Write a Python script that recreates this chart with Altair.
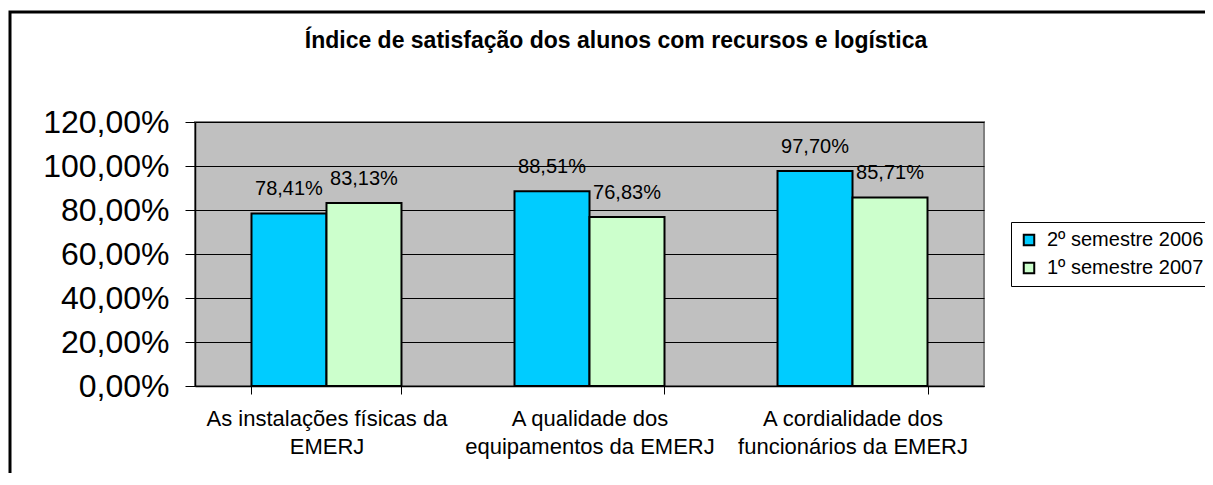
import altair as alt
import pandas as pd

title_text = "Índice de satisfação dos alunos com recursos e logística"
categories = [
    "As instalações físicas da EMERJ",
    "A qualidade dos equipamentos da EMERJ",
    "A cordialidade dos funcionários da EMERJ",
]
category_lines = [
    ["As instalações físicas da", "EMERJ"],
    ["A qualidade dos", "equipamentos da EMERJ"],
    ["A cordialidade dos", "funcionários da EMERJ"],
]
series = ["2º semestre 2006", "1º semestre 2007"]
values_2006 = [0.7841, 0.8851, 0.9770]
values_2007 = [0.8313, 0.7683, 0.8571]
colors = ["#00CCFF", "#CCFFCC"]
y_ticks = [0, 0.2, 0.4, 0.6, 0.8, 1.0, 1.2]

rows = []
for c, v in zip(categories, values_2006):
    rows.append({"cat": c, "series": series[0], "value": v})
for c, v in zip(categories, values_2007):
    rows.append({"cat": c, "series": series[1], "value": v})
df = pd.DataFrame(rows)

# multi-line x labels
expr = "datum.value"
for c, lines in zip(reversed(categories), reversed(category_lines)):
    arr = "[" + ",".join("'" + s + "'" for s in lines) + "]"
    expr = f"datum.value == '{c}' ? {arr} : ({expr})"

FONT = "Liberation Sans"
W, H = 789, 264

x_enc = alt.X(
    "cat:N", sort=categories, title=None,
    scale=alt.Scale(paddingInner=0.4297, paddingOuter=0.2148),
    axis=alt.Axis(
        labelExpr=expr, labelAngle=0, labelFont=FONT, labelFontSize=22,
        labelColor="black", labelLineHeight=28, labelPadding=14, labelLimit=0,
        tickBand="extent", tickSize=8, tickColor="black", tickWidth=1,
        domainColor="black", domainWidth=1.5, grid=False, labelBaseline="top",
    ),
)
xo_enc = alt.XOffset("series:N", sort=series, scale=alt.Scale(paddingInner=0, paddingOuter=0))
y_enc = alt.Y(
    "value:Q", title=None, scale=alt.Scale(domain=[0, 1.2]),
    axis=alt.Axis(
        values=y_ticks, labelExpr="replace(format(datum.value, '.2%'), '.', ',')",
        labelFont=FONT, labelFontSize=32, labelColor="black", labelPadding=16,
        tickSize=10, tickColor="black", domainColor="black", domainWidth=1.5,
        grid=True, gridColor="black", gridWidth=1, gridOpacity=1,
    ),
)

base = alt.Chart(df)
bars = base.mark_bar(stroke="black", strokeWidth=2).encode(
    x=x_enc, xOffset=xo_enc, y=y_enc,
    color=alt.Color(
        "series:N", sort=series, scale=alt.Scale(domain=series, range=colors),
        legend=alt.Legend(
            title=None, orient="none", legendX=816, legendY=100,
            labelFont=FONT, labelFontSize=20, labelColor="black",
            symbolType="square", symbolSize=110, symbolStrokeColor="black",
            symbolStrokeWidth=2, symbolOpacity=1, rowPadding=8,
            strokeColor="black", fillColor="white", padding=8, labelOffset=8,
        ),
    ),
)
labels = base.transform_calculate(
    lbl="replace(format(datum.value, '.2%'), '.', ',')"
).mark_text(font=FONT, fontSize=20, color="black", dy=-18, baseline="alphabetic").encode(
    x=alt.X("cat:N", sort=categories), xOffset=xo_enc, y=alt.Y("value:Q"), text="lbl:N"
)
decor = alt.Chart(alt.Data(values=[{"t": title_text}]))
border = decor.mark_rect(
    fill=None, stroke="black", strokeWidth=3, clip=False
).encode(
    x=alt.value(-185), x2=alt.value(1100), y=alt.value(-110), y2=alt.value(400)
)
title = decor.mark_text(
    font=FONT, fontSize=23, fontWeight="bold", color="black",
    align="center", baseline="alphabetic",
).encode(x=alt.value(421), y=alt.value(-74), text="t:N")

chart = alt.layer(bars, labels, border, title).properties(
    width=W, height=H,
    autosize=alt.AutoSizeParams(type="none"),
    padding={"left": 187, "top": 114, "right": 221, "bottom": 87},
    background="white",
).configure_view(
    fill="#C0C0C0", stroke="#808080", strokeWidth=2
)

chart.save("out.html", embed_options={"renderer": "svg", "actions": False})
